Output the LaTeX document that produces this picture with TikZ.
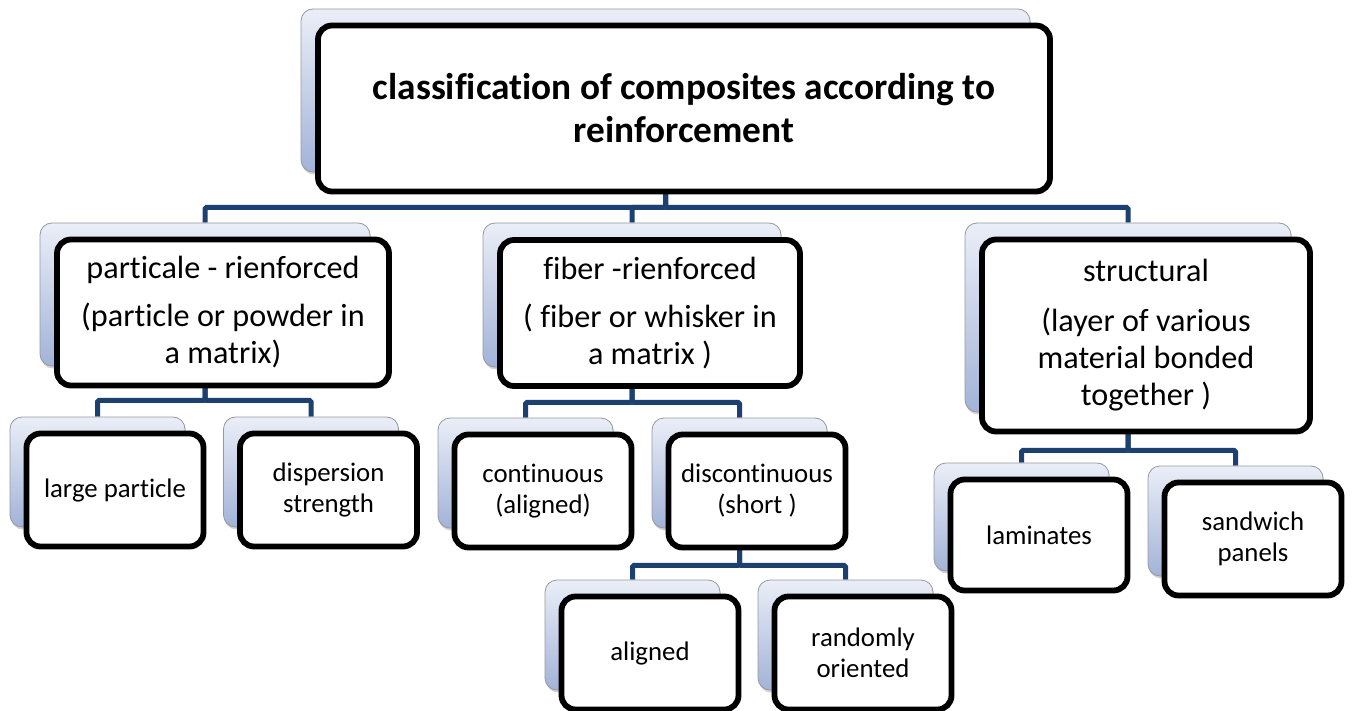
\documentclass[tikz,border=0pt]{standalone}
\usepackage{fontspec}
\setmainfont[Ligatures={NoCommon}]{Carlito}
\usetikzlibrary{shadows,calc,backgrounds}

\definecolor{linkblue}{RGB}{28,64,112}
\definecolor{cardtop}{RGB}{234,238,247}
\definecolor{cardbot}{RGB}{162,179,216}
\definecolor{cardedge}{RGB}{150,152,160}

\tikzset{
  card/.style={draw=cardedge, line width=0.8pt, rounded corners=12pt,
    top color=cardtop, bottom color=cardbot, inner sep=0pt,
    drop shadow={shadow xshift=1pt, shadow yshift=-2.5pt, opacity=.3, fill=black!60}},
  face/.style={draw=black, line width=5.8pt, rounded corners=14pt, fill=white,
    align=center, inner sep=0pt},
  titlefont/.style={font=\fontsize{37.3}{43}\selectfont\bfseries},
  midfont/.style={font=\fontsize{32.2}{37}\selectfont},
  leaffont/.style={font=\fontsize{26.8}{31}\selectfont},
  link/.style={draw=linkblue, line width=5pt, rounded corners=1.5pt},
}

\begin{document}
\begin{tikzpicture}[x=1pt, y=-1pt]
\useasboundingbox (0,0) rectangle (1352,711);

% ---- root
\node[card, minimum width=729pt, minimum height=163pt] (rootb) at (665.5,90.5) {};
\node[face, titlefont, minimum width=732pt, minimum height=166pt] (root) at ($(rootb)+(18.5,18)$)
  {classification of composites according to\\ reinforcement};

% ---- first level
\node[card, minimum width=330pt, minimum height=143pt] (partb) at (205,294.5) {};
\node[face, midfont, minimum width=332pt, minimum height=146pt] (part) at ($(partb)+(18,18)$)
  {particale - rienforced\\[11pt] (particle or powder in\\ a matrix)};

\node[card, minimum width=298pt, minimum height=144pt] (fibb) at (632,295) {};
\node[face, midfont, minimum width=300pt, minimum height=146pt] (fib) at ($(fibb)+(18,18)$)
  {fiber -rienforced\\[11pt] ( fiber or whisker in\\ a matrix )};

\node[card, minimum width=326pt, minimum height=189pt] (strb) at (1128,317.5) {};
\node[face, midfont, minimum width=328pt, minimum height=192pt] (str) at ($(strb)+(18,18)$)
  {structural\\[13pt] (layer of various\\ material bonded\\ together )};

% ---- second level
\node[card, minimum width=175pt, minimum height=110pt] (lpb) at (97.5,472) {};
\node[face, leaffont, minimum width=177pt, minimum height=113pt] (lp) at ($(lpb)+(17.5,18)$)
  {large particle};

\node[card, minimum width=175pt, minimum height=110pt] (dsb) at (311,472) {};
\node[face, leaffont, minimum width=177pt, minimum height=113pt] (ds) at ($(dsb)+(17.5,18)$)
  {dispersion\\ strength};

\node[card, minimum width=175pt, minimum height=110pt] (conb) at (525.5,473) {};
\node[face, leaffont, minimum width=177pt, minimum height=113pt] (con) at ($(conb)+(17.5,18)$)
  {continuous\\ (aligned)};

\node[card, minimum width=175pt, minimum height=110pt] (disb) at (739.5,473) {};
\node[face, leaffont, minimum width=177pt, minimum height=113pt] (dis) at ($(disb)+(17.5,18)$)
  {discontinuous\\ (short )};

\node[card, minimum width=175pt, minimum height=108pt] (lamb) at (1021.5,517) {};
\node[face, leaffont, minimum width=177pt, minimum height=111pt] (lam) at ($(lamb)+(17.5,18)$)
  {laminates};

\node[card, minimum width=175pt, minimum height=110pt] (sanb) at (1235.5,521) {};
\node[face, leaffont, minimum width=177pt, minimum height=113pt] (san) at ($(sanb)+(17.5,18)$)
  {sandwich\\ panels};

% ---- third level
\node[card, minimum width=175pt, minimum height=110pt] (alb) at (632.5,635) {};
\node[face, leaffont, minimum width=177pt, minimum height=113pt] (al) at ($(alb)+(17.5,18)$)
  {aligned};

\node[card, minimum width=175pt, minimum height=110pt] (rob) at (845.5,635) {};
\node[face, leaffont, minimum width=177pt, minimum height=113pt] (ro) at ($(rob)+(17.5,18)$)
  {randomly\\ oriented};

% ---- connectors (behind the cards)
\begin{scope}[on background layer]
\draw[link] (rootb.south) -- ++(0,35) -| (partb.north);
\draw[link] (rootb.south) -- ++(0,35) -| (fibb.north);
\draw[link] (rootb.south) -- ++(0,35) -| (strb.north);

\draw[link] (partb.south) -- ++(0,34) -| (lpb.north);
\draw[link] (partb.south) -- ++(0,34) -| (dsb.north);

\draw[link] (fibb.south) -- ++(0,35) -| (conb.north);
\draw[link] (fibb.south) -- ++(0,35) -| (disb.north);

\draw[link] (strb.south) -- ++(0,38) -| (lamb.north);
\draw[link] (strb.south) -- ++(0,38) -| (sanb.north);

\draw[link] (disb.south) -- ++(0,37) -| (alb.north);
\draw[link] (disb.south) -- ++(0,37) -| (rob.north);
\end{scope}
\end{tikzpicture}
\end{document}
